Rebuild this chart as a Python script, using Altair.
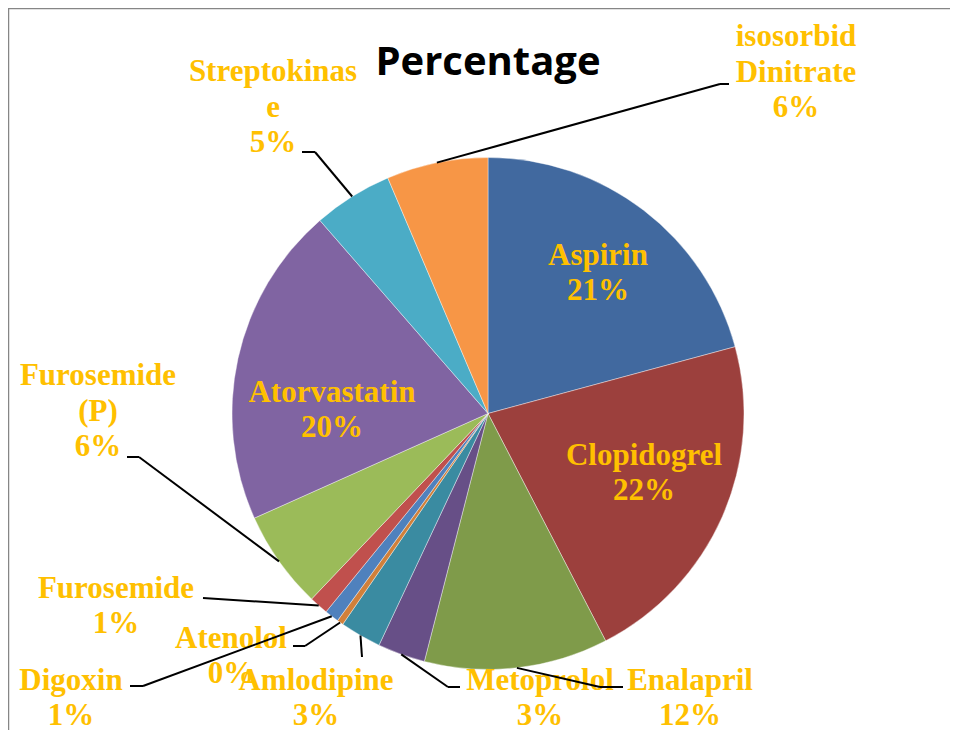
import math
import altair as alt
import pandas as pd

# ---- data ----
drugs = ["Aspirin", "Clopidogrel", "Enalapril", "Metoprolol", "Amlodipine", "Atenolol",
         "Digoxin", "Furosemide", "Furosemide (P)", "Atorvastatin", "Streptokinase",
         "isosorbid Dinitrate"]
shares = [20.8, 21.6, 11.6, 3.0, 2.6, 0.4, 0.9, 1.2, 6.2, 20.3, 5.0, 6.4]
pct_labels = ["21%", "22%", "12%", "3%", "3%", "0%", "1%", "1%", "6%", "20%", "5%", "6%"]
name_lines = [["Aspirin"], ["Clopidogrel"], ["Enalapril"], ["Metoprolol"], ["Amlodipine"],
              ["Atenolol"], ["Digoxin"], ["Furosemide"], ["Furosemide", "(P)"],
              ["Atorvastatin"], ["Streptokinas", "e"], ["isosorbid", "Dinitrate"]]
colors = ["#41699F", "#9C403D", "#7F9B4A", "#674F87", "#3A8BA1", "#D1803A",
          "#4F81BD", "#C0504D", "#9BBB59", "#8064A2", "#4BACC6", "#F79646"]

# ---- layout (pixel offsets from the pie centre, y up) ----
NAN = float("nan")
label_x = [110, 156, 202, 52, -172, -257, -417, -372, -390, -156, -215, 308]
label_y = [140, -60, -285, -285, -285, -243, -285, -193, 2, 3, 306, 341]
elbow_x = [NAN, NAN, 112, -40, -126, -183, -345, -285, -349, NAN, -173, 232]
elbow_y = [NAN, NAN, -273.5, -273.5, -243.5, -232.5, -272.5, -184.5, -43.5, NAN, 261.5, 329.5]
end_x = [NAN, NAN, 135, -28, -126, -195, -358, -285, -361, NAN, -186, 241]

R = 256
W, H = 942, 722
CX, CY = 480, 405.5
LH = 35.5

df = pd.DataFrame({"drug": drugs, "share": shares, "idx": list(range(len(drugs)))})

total = sum(shares)
lab_rows, seg_rows = [], []
cum = 0.0
for i, d in enumerate(drugs):
    mid = (cum + shares[i] / 2) / total * 2 * math.pi
    cum += shares[i]
    lines = name_lines[i] + [pct_labels[i]]
    # first line sits at the anchor: shift so the whole block is centred
    lab_rows.append({"lines": lines, "x": label_x[i],
                     "y": label_y[i] + (len(lines) - 1) / 2 * LH})
    if not math.isnan(elbow_x[i]):
        ex, ey = R * math.sin(mid), R * math.cos(mid)
        seg_rows.append({"x": ex, "y": ey, "x2": elbow_x[i], "y2": elbow_y[i]})
        if end_x[i] != elbow_x[i]:
            seg_rows.append({"x": elbow_x[i], "y": elbow_y[i], "x2": end_x[i], "y2": elbow_y[i]})
labels = pd.DataFrame(lab_rows)
segs = pd.DataFrame(seg_rows)

xs = alt.Scale(domain=[-CX, W - CX], range=[0, W], nice=False, zero=False)
ys = alt.Scale(domain=[-(H - CY), CY], range=[H, 0], nice=False, zero=False)

pie = alt.Chart(df).mark_arc(outerRadius=R, stroke="#ffffff", strokeWidth=0.4).encode(
    x=alt.X(datum=0, type="quantitative", scale=xs, axis=None),
    y=alt.Y(datum=0, type="quantitative", scale=ys, axis=None),
    theta=alt.Theta("share:Q", stack=True),
    color=alt.Color("drug:N", scale=alt.Scale(domain=drugs, range=colors), legend=None),
    order=alt.Order("idx:Q", sort="ascending"),
)

text = alt.Chart(labels).mark_text(
    font="Liberation Serif", fontWeight="bold", fontSize=31, color="#FFC000",
    lineHeight=LH, align="center", baseline="middle",
).encode(
    x=alt.X("x:Q", scale=xs, axis=None),
    y=alt.Y("y:Q", scale=ys, axis=None),
    text=alt.Text("lines:N"),
)

leaders = alt.Chart(segs).mark_rule(color="#000000", strokeWidth=2).encode(
    x=alt.X("x:Q", scale=xs, axis=None),
    y=alt.Y("y:Q", scale=ys, axis=None),
    x2="x2:Q",
    y2="y2:Q",
)

frame_df = pd.DataFrame({"k": [0]})
frame_left = alt.Chart(frame_df).mark_rule(color="#868686", strokeWidth=2.5).encode(
    x=alt.value(0), y=alt.value(0), y2=alt.value(H))
frame_top = alt.Chart(frame_df).mark_rule(color="#868686", strokeWidth=2.5).encode(
    x=alt.value(0), x2=alt.value(W), y=alt.value(0))

chart = alt.layer(frame_left, frame_top, pie, text, leaders).properties(
    width=W, height=H,
    padding=0,
    autosize=alt.AutoSizeParams(type="none"),
    title=alt.TitleParams("Percentage", font="Open Sans", fontSize=40, fontWeight="bold",
                          color="#000000", anchor="middle", frame="group",
                          baseline="alphabetic", offset=-108, dx=9),
).configure_view(strokeWidth=0)

chart.save("out.html", embed_options={"renderer": "svg", "actions": False})
